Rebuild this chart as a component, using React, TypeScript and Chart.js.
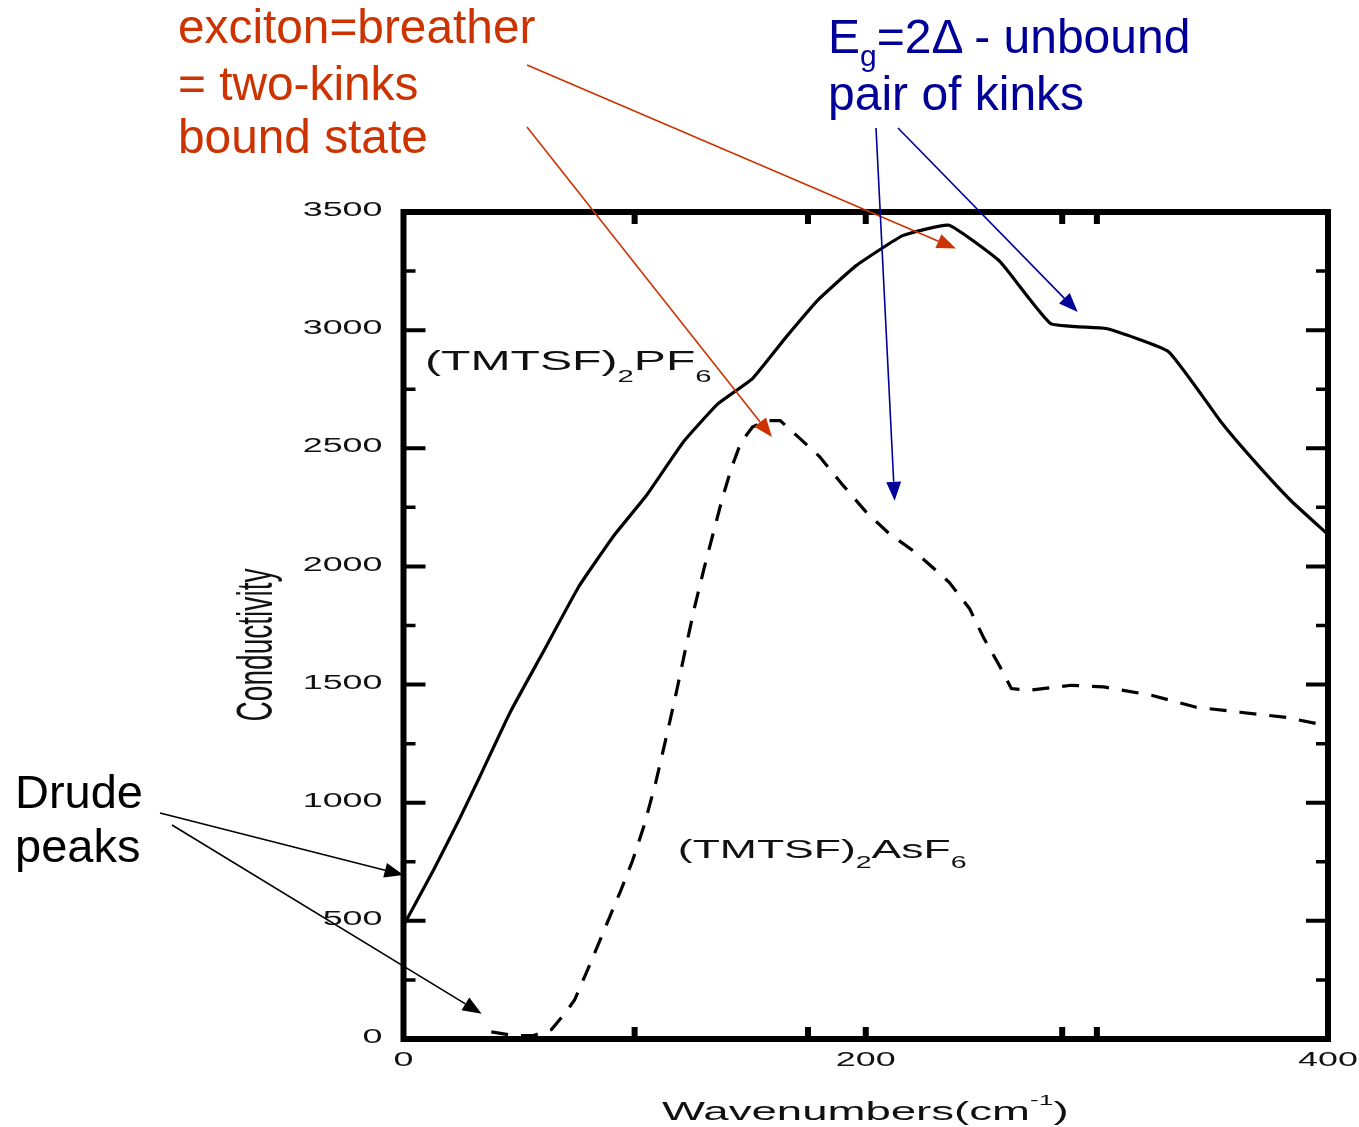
import React, { useEffect, useRef } from "react";
import { Chart, registerables } from "chart.js";

Chart.register(...registerables);

// ---- data ----
const pf6Wavenumber = [0, 13, 24, 33, 46, 60, 76, 91, 105, 121, 136, 151, 165, 180, 196, 216, 236, 258, 280, 304, 331, 354, 369, 384, 400];
const pf6Conductivity = [480, 715, 927, 1110, 1380, 1630, 1917, 2130, 2299, 2526, 2688, 2795, 2964, 3134, 3274, 3400, 3444, 3291, 3028, 3007, 2909, 2608, 2436, 2278, 2135];

const asf6Wavenumber = [38, 48, 56, 64, 70, 74, 79, 84, 89, 94, 99, 104, 109, 114, 118, 122, 126, 130, 134, 138, 142, 146, 151, 157, 163, 171, 180, 190, 200, 210, 222, 236, 245, 251, 258, 263, 271, 289, 303, 324, 343, 362, 382, 400];
const asf6Conductivity = [30, 14, 14, 40, 110, 165, 278, 394, 512, 628, 752, 900, 1080, 1290, 1465, 1650, 1830, 1990, 2140, 2290, 2420, 2525, 2590, 2617, 2617, 2546, 2465, 2345, 2232, 2140, 2056, 1934, 1820, 1698, 1577, 1483, 1476, 1497, 1490, 1454, 1404, 1383, 1361, 1325];

const yTickLabels = [0, 500, 1000, 1500, 2000, 2500, 3000, 3500];
const yMinorTicks = [250, 750, 1250, 1750, 2250, 2750, 3250];
const xTickLabels = [0, 200, 400];
const xTickMarks = [100, 175, 200, 285, 300];

const xTitle = "Wavenumbers(cm";
const yTitle = "Conductivity";

// arrow tips point at data locations; tails start near the annotation texts
const arrows = [
  { color: "#cc3300", tail: [527, 65], tipX: 239.0, tipY: 3345 },
  { color: "#cc3300", tail: [527, 127], tipX: 159.4, tipY: 2548 },
  { color: "#000099", tail: [876, 128], tipX: 212.5, tipY: 2278 },
  { color: "#000099", tail: [898, 128], tipX: 291.7, tipY: 3077 },
  { color: "#000000", tail: [160, 813], tipX: 0, tipY: 694 },
  { color: "#000000", tail: [172, 825], tipX: 33.8, tipY: 107 },
];

const FONT = '"Liberation Sans", Arial, sans-serif';

function stretchText(ctx, text, x, y, size, sx, align, baseline) {
  ctx.save();
  ctx.font = `${size}px ${FONT}`;
  ctx.textAlign = align;
  ctx.textBaseline = baseline;
  ctx.translate(x, y);
  ctx.scale(sx, 1);
  ctx.fillText(text, 0, 0);
  ctx.restore();
}

// runs: [text, size, dy]
function drawRuns(ctx, runs, x, y, sx) {
  let cx = x;
  for (const [t, size, dy] of runs) {
    ctx.save();
    ctx.font = `${size}px ${FONT}`;
    ctx.textAlign = "left";
    ctx.textBaseline = "alphabetic";
    const w = ctx.measureText(t).width * sx;
    ctx.translate(cx, y + dy);
    ctx.scale(sx, 1);
    ctx.fillText(t, 0, 0);
    ctx.restore();
    cx += w;
  }
}

const framePlugin = {
  id: "frame",
  afterDatasetsDraw(chart) {
    const { ctx, chartArea: a, scales } = chart;
    const x = scales.x;
    const y = scales.y;
    ctx.save();
    ctx.strokeStyle = "#000";
    ctx.lineWidth = 6;
    ctx.strokeRect(a.left, a.top, a.right - a.left, a.bottom - a.top);

    const hTick = (py, len, w) => {
      ctx.lineWidth = w;
      ctx.beginPath();
      ctx.moveTo(a.left, py);
      ctx.lineTo(a.left + len, py);
      ctx.moveTo(a.right, py);
      ctx.lineTo(a.right - len, py);
      ctx.stroke();
    };
    yTickLabels.forEach((v) => hTick(y.getPixelForValue(v), 22, 4));
    yMinorTicks.forEach((v) => hTick(y.getPixelForValue(v), 12, 3.5));
    xTickMarks.forEach((v) => {
      const px = x.getPixelForValue(v);
      ctx.lineWidth = 6;
      ctx.beginPath();
      ctx.moveTo(px, a.bottom);
      ctx.lineTo(px, a.bottom - 12);
      ctx.moveTo(px, a.top);
      ctx.lineTo(px, a.top + 12);
      ctx.stroke();
    });

    ctx.fillStyle = "#111";
    yTickLabels.forEach((v) =>
      stretchText(ctx, String(v), a.left - 21, y.getPixelForValue(v) - 1.5, 20.5, 1.75, "right", "middle")
    );
    xTickLabels.forEach((v) =>
      stretchText(ctx, String(v), x.getPixelForValue(v), a.bottom + 21, 20.5, 1.75, "center", "middle")
    );

    // x title
    ctx.font = `26px ${FONT}`;
    const sxT = 368 / ctx.measureText(xTitle).width;
    drawRuns(ctx, [[xTitle, 26, 0], ["-1", 15, -15], [")", 26, 0]], 662, 1120, sxT);

    // y title (rotated, compressed along its length)
    ctx.save();
    ctx.font = `50px ${FONT}`;
    const sy = 153 / ctx.measureText(yTitle).width;
    ctx.translate(272, 645);
    ctx.rotate(-Math.PI / 2);
    ctx.scale(sy, 1);
    ctx.textAlign = "center";
    ctx.textBaseline = "alphabetic";
    ctx.fillText(yTitle, 0, 0);
    ctx.restore();

    // series labels
    drawRuns(
      ctx,
      [["(TMTSF)", 28, 0], ["2", 17, 12], ["PF", 28, 0], ["6", 17, 12]],
      x.getPixelForValue(9.3),
      y.getPixelForValue(2832),
      1.72
    );
    drawRuns(
      ctx,
      [["(TMTSF)", 25, 0], ["2", 16, 10], ["AsF", 25, 0], ["6", 16, 10]],
      x.getPixelForValue(118.7),
      y.getPixelForValue(766),
      1.78
    );
    ctx.restore();
  },
  afterDraw(chart) {
    const { ctx, scales } = chart;
    const x = scales.x;
    const y = scales.y;
    ctx.save();
    for (const ar of arrows) {
      const [x0, y0] = ar.tail;
      const x1 = x.getPixelForValue(ar.tipX);
      const y1 = y.getPixelForValue(ar.tipY);
      const ang = Math.atan2(y1 - y0, x1 - x0);
      const L = 19;
      const W = 7.5;
      const bx = x1 - L * Math.cos(ang);
      const by = y1 - L * Math.sin(ang);
      ctx.strokeStyle = ar.color;
      ctx.fillStyle = ar.color;
      ctx.lineWidth = 1.6;
      ctx.beginPath();
      ctx.moveTo(x0, y0);
      ctx.lineTo(bx, by);
      ctx.stroke();
      ctx.beginPath();
      ctx.moveTo(x1, y1);
      ctx.lineTo(bx + W * Math.sin(ang), by - W * Math.cos(ang));
      ctx.lineTo(bx - W * Math.sin(ang), by + W * Math.cos(ang));
      ctx.closePath();
      ctx.fill();
    }
    ctx.restore();
  },
};

export default function App() {
  const ref = useRef<HTMLCanvasElement | null>(null);

  useEffect(() => {
    const canvas = ref.current;
    if (!canvas) return;
    const pf6 = pf6Wavenumber.map((v, i) => ({ x: v, y: pf6Conductivity[i] }));
    const asf6 = asf6Wavenumber.map((v, i) => ({ x: v, y: asf6Conductivity[i] }));
    const chart = new Chart(canvas, {
      type: "line",
      data: {
        datasets: [
          {
            label: "(TMTSF)2PF6",
            data: pf6,
            borderColor: "#000",
            borderWidth: 3.2,
            pointRadius: 0,
            tension: 0.12,
            fill: false,
            borderJoinStyle: "round",
          },
          {
            label: "(TMTSF)2AsF6",
            data: asf6,
            borderColor: "#000",
            borderWidth: 3.2,
            borderDash: [17, 13],
            pointRadius: 0,
            tension: 0,
            fill: false,
          },
        ],
      },
      options: {
        animation: false,
        responsive: false,
        maintainAspectRatio: false,
        events: [],
        layout: { padding: { left: 403.5, right: 31, top: 212, bottom: 88 } },
        scales: {
          x: { type: "linear", min: 0, max: 400, display: false },
          y: { type: "linear", min: 0, max: 3500, display: false },
        },
        plugins: { legend: { display: false }, tooltip: { enabled: false } },
      },
      plugins: [framePlugin],
    });
    return () => chart.destroy();
  }, []);

  const red = "#cc3300";
  const blue = "#000099";
  return (
    <div style={{ position: "fixed", left: 0, top: 0, width: 1359, height: 1127, background: "#fff" }}>
      <canvas ref={ref} width={1359} height={1127} style={{ position: "absolute", left: 0, top: 0, display: "block" }} />
      <svg
        width={1359}
        height={1127}
        style={{ position: "absolute", left: 0, top: 0, pointerEvents: "none" }}
        fontFamily={FONT}
      >
        <g fill={red} fontSize={47.8}>
          <text x={178} y={43}>exciton=breather</text>
          <text x={178} y={100}>= two-kinks</text>
          <text x={178} y={153}>bound state</text>
        </g>
        <g fill={blue} fontSize={48}>
          <text x={828} y={53}>
            E<tspan fontSize={30} dy={13}>g</tspan>
            <tspan dy={-13}>=2Δ - unbound</tspan>
          </text>
          <text x={828} y={110}>pair of kinks</text>
        </g>
        <g fill="#000" fontSize={47}>
          <text x={15} y={808}>Drude</text>
          <text x={15} y={862}>peaks</text>
        </g>
      </svg>
    </div>
  );
}
